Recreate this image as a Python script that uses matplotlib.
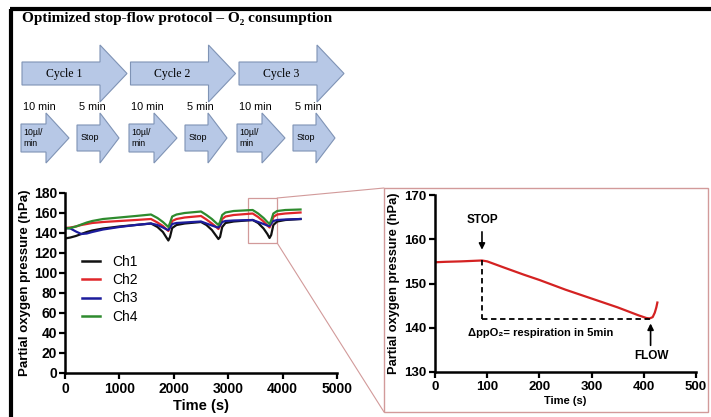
import numpy as np
import matplotlib.pyplot as plt
from matplotlib.patches import Polygon, Rectangle, ConnectionPatch

# ---- data ----
time_s = [0, 100, 200, 300, 400, 500, 700, 1000, 1300, 1580, 1700, 1800, 1870, 1900,
          1930, 1970, 2050, 2200, 2500, 2600, 2700, 2780, 2820, 2850, 2890, 2950, 3100,
          3450, 3550, 3650, 3720, 3760, 3790, 3830, 3900, 4050, 4330]
ch1 = [134.5, 135.5, 137, 139, 141, 142.5, 144.5, 146.5, 148, 149.5, 146, 141, 135, 132.5,
       136, 145, 148, 149.5, 151, 148, 143, 137, 134, 136, 146, 150, 151.5,
       153, 150, 144.5, 139, 135, 138, 148, 151.5, 153, 154]
ch2 = [145, 145.5, 146.5, 148, 149, 150, 151, 152, 153, 154, 150.5, 147, 143.5, 142,
       146, 152, 154, 155.5, 157, 153.5, 149.5, 146, 144, 147, 154, 156.5, 158,
       159.5, 156, 151.5, 147.5, 145.5, 149, 156, 158.5, 159.5, 160.5]
ch3 = [145, 144.5, 141.5, 139, 139.5, 141, 143.5, 146, 148, 149.5, 148, 145.5, 143.5, 143,
       145.5, 149, 150, 150.5, 151.5, 149.5, 147.5, 146, 145.5, 147.5, 151, 152, 152.5,
       153, 151, 149, 147.5, 147, 149.5, 152, 153, 153.5, 154]
ch4 = [144.5, 145, 146.5, 148.5, 150.5, 152, 154, 155.5, 157, 158.5, 155, 151, 147.5, 146,
       150, 156.5, 158.5, 160, 161.5, 158, 154, 150, 148, 151, 158, 160.5, 162,
       163, 159.5, 155, 151, 149, 152.5, 159.5, 162, 163, 163.5]
channels = ['Ch1', 'Ch2', 'Ch3', 'Ch4']
colors = ['#111111', '#e0262a', '#1c1c9c', '#2e8b2e']

zoom_t = [0, 20, 50, 90, 100, 130, 170, 200, 250, 300, 350, 390, 405, 411, 417, 421, 424, 426]
zoom_p = [154.8, 154.9, 155.0, 155.2, 155.0, 153.7, 152.0, 150.8, 148.6, 146.6, 144.6,
          142.8, 142.2, 142.1, 142.4, 143.4, 144.6, 145.7]
zoom_window = (3370, 3900, 130, 175)
stop_t, flow_t, level_low = 90, 411, 142.0

cycle_labels = ['Cycle 1', 'Cycle 2', 'Cycle 3']
step_labels = ['10\u00b5l/\nmin', 'Stop']
step_durations = ['10 min', '5 min']

pink = '#d29a9a'
arrow_fill = '#b7c8e6'
arrow_edge = '#7f93b5'

fig = plt.figure(figsize=(7.11, 4.17), dpi=100)

# pixel-space layer for the protocol diagram and frame
dax = fig.add_axes([0, 0, 1, 1])
dax.set_xlim(0, 711)
dax.set_ylim(417, 0)
dax.axis('off')
dax.plot([10, 711], [9, 9], color='black', lw=3, solid_capstyle='butt')
dax.plot([11, 11], [9, 417], color='black', lw=3, solid_capstyle='butt')

dax.text(22, 18, 'Optimized stop-flow protocol \u2013 O\u2082 consumption',
         family=['Liberation Serif', 'DejaVu Serif'], weight='bold', size=11, va='center')


def block_arrow(x0, length, head, ymid, body_h, head_h):
    xh = x0 + length - head
    pts = [(x0, ymid - body_h / 2), (xh, ymid - body_h / 2), (xh, ymid - head_h / 2),
           (x0 + length, ymid), (xh, ymid + head_h / 2), (xh, ymid + body_h / 2),
           (x0, ymid + body_h / 2)]
    dax.add_patch(Polygon(pts, closed=True, facecolor=arrow_fill, edgecolor=arrow_edge, lw=0.8))
    return xh


for i, lab in enumerate(cycle_labels):
    x0 = 22 + 108.5 * i
    xh = block_arrow(x0, 105, 27, 73.5, 23, 57)
    dax.text((x0 + xh) / 2 + 3, 73.5, lab, family=['Liberation Serif', 'DejaVu Serif'],
             size=8.5, ha='center', va='center')
    # flow step
    f0 = 21 + 108 * i
    block_arrow(f0, 48, 23, 138, 28, 50)
    dax.text(f0 + 2.5, 138, step_labels[0], family=['Liberation Sans', 'DejaVu Sans'],
             size=6.3, ha='left', va='center', linespacing=1.3)
    dax.text(f0 + 18, 107, step_durations[0], family='Liberation Sans', size=7.8,
             ha='center', va='center')
    # stop step
    s0 = 77 + 108 * i
    sh = block_arrow(s0, 42, 19, 138, 26, 50)
    dax.text((s0 + sh) / 2 + 1, 138, step_labels[1], family='Liberation Sans',
             size=6.5, ha='center', va='center')
    dax.text(s0 + 15, 107, step_durations[1], family='Liberation Sans', size=7.8,
             ha='center', va='center')


def prism(ax, labelsize):
    for s in ['top', 'right']:
        ax.spines[s].set_visible(False)
    for s in ['left', 'bottom']:
        ax.spines[s].set_linewidth(1.8)
    ax.tick_params(width=1.6, length=4.5, direction='out', labelsize=labelsize)
    for lab in ax.get_xticklabels() + ax.get_yticklabels():
        lab.set_fontweight('bold')
        lab.set_family('Liberation Sans')
    ax.patch.set_alpha(0)


# ---- main chart ----
ax = fig.add_axes([65 / 711, 44 / 417, 272 / 711, 180 / 417])
for vals, name, c in zip([ch1, ch2, ch3, ch4], channels, colors):
    ax.plot(time_s, vals, color=c, lw=1.6, label=name)
ax.set_xlim(0, 5000)
ax.set_ylim(0, 180)
ax.set_xticks(np.arange(0, 5001, 1000))
ax.set_yticks(np.arange(0, 181, 20))
prism(ax, 10)
ax.tick_params(axis='y', pad=1)
ax.tick_params(axis='x', pad=2)
ax.set_xlabel('Time (s)', family='Liberation Sans', weight='bold', size=10.5, labelpad=2)
ax.set_ylabel('Partial oxygen pressure (hPa)', family='Liberation Sans', weight='bold',
              size=9.5, labelpad=2)
leg = ax.legend(loc='upper left', bbox_to_anchor=(0.0625, 0.655), frameon=False,
                prop={'family': 'Liberation Sans', 'size': 10}, handlelength=1.3,
                handletextpad=0.85, labelspacing=0.3, borderpad=0, borderaxespad=0)
for h in leg.get_lines():
    h.set_linewidth(1.8)

zx0, zx1, zy0, zy1 = zoom_window
ax.add_patch(Rectangle((zx0, zy0), zx1 - zx0, zy1 - zy0, fill=False, edgecolor=pink,
                       lw=0.9, clip_on=False))

# ---- zoomed inset ----
dax.add_patch(Rectangle((384, 188), 324, 224, fill=False, edgecolor=pink, lw=1))
for ya, yb in [(zy1, 188), (zy0, 412)]:
    con = ConnectionPatch(xyA=(zx1, ya), coordsA=ax.transData, xyB=(384, yb),
                          coordsB=dax.transData, color=pink, lw=0.8)
    fig.add_artist(con)

ax2 = fig.add_axes([435 / 711, 45 / 417, 261 / 711, 177 / 417])
ax2.plot(zoom_t, zoom_p, color='#d42222', lw=1.6)
ax2.set_xlim(0, 500)
ax2.set_ylim(130, 170)
ax2.set_xticks(np.arange(0, 501, 100))
ax2.set_yticks(np.arange(130, 171, 10))
prism(ax2, 9.5)
ax2.tick_params(pad=2)
ax2.set_xlabel('Time (s)', family='Liberation Sans', weight='bold', size=8, labelpad=2)
ax2.set_ylabel('Partial oxygen pressure (hPa)', family='Liberation Sans', weight='bold',
               size=9.3, labelpad=3)

ax2.plot([stop_t, stop_t], [155.3, level_low], color='black', lw=1.3, dashes=(3, 2))
ax2.plot([stop_t, flow_t], [level_low, level_low], color='black', lw=1.3, dashes=(3, 2))
ax2.annotate('', xy=(stop_t, 157.0), xytext=(stop_t, 162.3),
             arrowprops=dict(arrowstyle='-|>', color='black', lw=1.2, mutation_scale=9))
ax2.text(stop_t, 164.4, 'STOP', family='Liberation Sans', weight='bold', size=8.5,
         ha='center', va='center')
ax2.annotate('', xy=(flow_t + 2, 141.6), xytext=(flow_t + 2, 135.4),
             arrowprops=dict(arrowstyle='-|>', color='black', lw=1.2, mutation_scale=9))
ax2.text(flow_t + 4, 133.7, 'FLOW', family='Liberation Sans', weight='bold', size=8.5,
         ha='center', va='center')
ax2.text(64, 138.9, '\u0394ppO\u2082= respiration in 5min', family=['Liberation Sans', 'DejaVu Sans'],
         weight='bold', size=8, ha='left', va='center')

fig.savefig('out.png', dpi=100)
